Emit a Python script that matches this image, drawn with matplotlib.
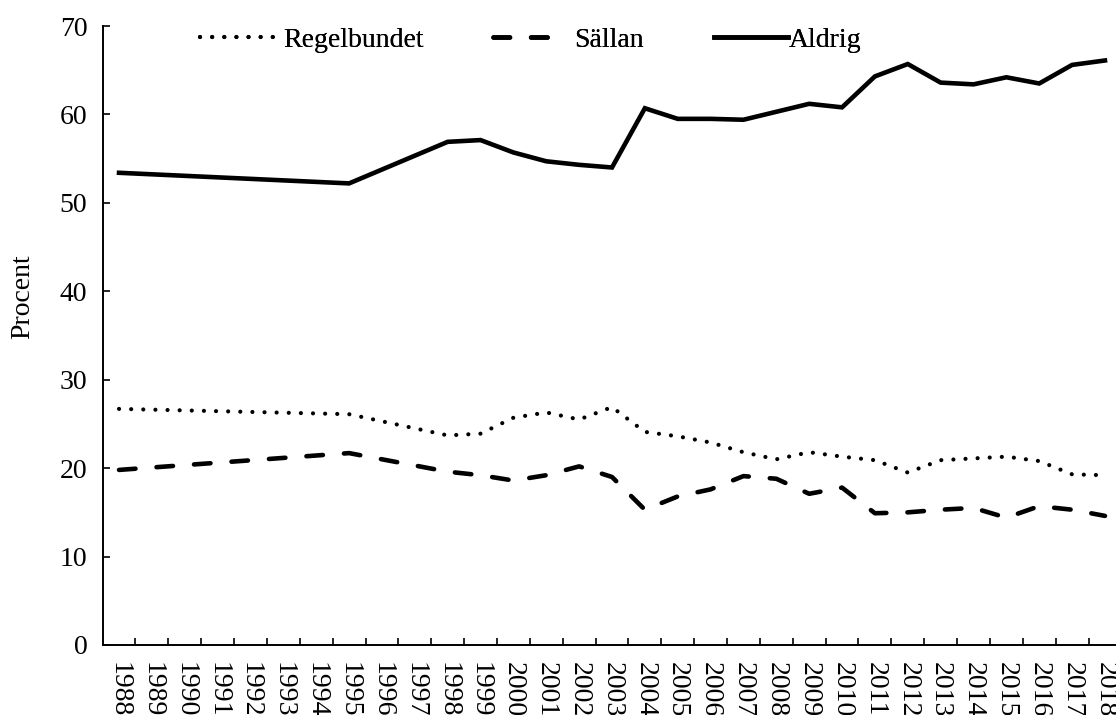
import numpy as np
import matplotlib
matplotlib.use("Agg")
import matplotlib.pyplot as plt

years = list(range(1988, 2019))
nan = np.nan
regelbundet = [26.7, nan, nan, nan, nan, nan, nan, 26.1, nan, nan, 23.7, 23.9, 25.7, 26.3, 25.5,
               26.9, 24.1, 23.6, 22.9, 21.8, 21.0, 21.8, 21.3, 20.9, 19.5, 20.9, 21.1, 21.3, 20.8, 19.3, 19.2]
sallan = [19.8, nan, nan, nan, nan, nan, nan, 21.7, nan, nan, 19.6, 19.2, 18.6, 19.2, 20.2,
          19.0, 15.3, 16.8, 17.6, 19.1, 18.8, 17.1, 17.8, 14.9, 15.0, 15.3, 15.5, 14.4, 15.7, 15.3, 14.6]
aldrig = [53.4, nan, nan, nan, nan, nan, nan, 52.2, nan, nan, 56.9, 57.1, 55.7, 54.7, 54.3,
          54.0, 60.7, 59.5, 59.5, 59.4, 60.3, 61.2, 60.8, 64.3, 65.7, 63.6, 63.4, 64.2, 63.5, 65.6, 66.1]
series_names = ["Regelbundet", "Sällan", "Aldrig"]
y_ticks = [0, 10, 20, 30, 40, 50, 60, 70]
y_label = "Procent"

plt.rcParams['font.family'] = ['Liberation Serif', 'DejaVu Serif']

fig = plt.figure(figsize=(11.16, 7.15), dpi=100)
W, H = 1116, 715
left_px, right_px = 102.6, 1121.4
bottom_px, top_px = 645, 26
ax = fig.add_axes([left_px / W, (H - bottom_px) / H, (right_px - left_px) / W, (bottom_px - top_px) / H])

x = np.arange(len(years))

def plot_series(vals, **kw):
    v = np.array(vals, dtype=float)
    m = ~np.isnan(v)
    return ax.plot(x[m], v[m], color='black', **kw)[0]

lw = 3.3
l1 = plot_series(regelbundet, lw=3.0, linestyle=(0, (0.01, 2.9)), dash_capstyle='round', solid_capstyle='round')
l2 = plot_series(sallan, lw=lw, linestyle=(0, (3.6, 4.6)), dash_capstyle='round')
l3 = plot_series(aldrig, lw=lw, linestyle='-', solid_joinstyle='miter')

ax.set_xlim(-0.5, len(years) - 0.5)
ax.set_ylim(0, 70)
ax.set_yticks(y_ticks)
ax.set_xticks(x)
ax.set_xticklabels([str(y) for y in years], rotation=270, fontsize=20)
ax.set_xticks(np.arange(0.5, len(years) - 0.5, 1.0), minor=True)
ax.tick_params(axis='x', which='major', length=0, pad=12)
ax.tick_params(axis='x', which='minor', direction='in', length=5, width=1.2)
ax.tick_params(axis='y', direction='in', length=5, width=1.2, labelsize=20, pad=11)
for s in ['top', 'right']:
    ax.spines[s].set_visible(False)
for s in ['left', 'bottom']:
    ax.spines[s].set_linewidth(1.4)
ax.set_ylabel(y_label, fontsize=20)
ax.yaxis.set_label_coords(-0.066, 0.562)

# legend entries placed individually
handles = [l1, l2, l3]
starts = [200, 493, 714]
pads = [0.35, 0.27, 0.05]
for h, name, sx, p in zip(handles, series_names, starts, pads):
    lg = fig.legend([h], [name], loc='center left', bbox_to_anchor=(sx / W, 1 - 40 / H),
                    frameon=False, fontsize=20, handlelength=2.65, handletextpad=p,
                    borderpad=0, borderaxespad=0)
    fig.add_artist(lg)

fig.savefig("out.png", dpi=100)
